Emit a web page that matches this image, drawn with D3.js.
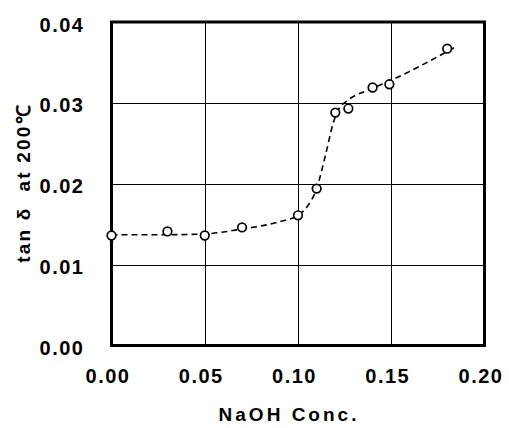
<!DOCTYPE html>
<html><head><meta charset="utf-8">
<script src="https://cdn.jsdelivr.net/npm/d3@7"></script>
<style>
html,body{margin:0;padding:0;background:#fff;}
text{font-family:"Liberation Sans",Arial,sans-serif;font-weight:bold;fill:#000;}
</style></head>
<body><svg id="chart" width="509" height="428"></svg>
<script>
// Measured points
const naohConc = [0.000, 0.030, 0.050, 0.070, 0.100, 0.110, 0.120, 0.127, 0.140, 0.149, 0.180];
const tanDelta = [0.0136, 0.0141, 0.0136, 0.0146, 0.0161, 0.0194, 0.0288, 0.0293, 0.0319, 0.0323, 0.0367];
// Dashed trend curve
const trendX = [0, 0.03, 0.05, 0.07, 0.09, 0.10, 0.105, 0.11, 0.115, 0.119, 0.122, 0.126, 0.14, 0.15, 0.185];
const trendY = [0.0137, 0.0137, 0.0138, 0.0144, 0.0153, 0.0161, 0.0172, 0.0194, 0.0238, 0.0276, 0.0293, 0.0302, 0.0318, 0.0328, 0.0370];
// Axes
const xTicks = [0, 0.05, 0.10, 0.15, 0.20];
const yTicks = [0, 0.01, 0.02, 0.03, 0.04];
const xTitle = "NaOH Conc.";
const yTitle = "tan \u03B4  at 200\u2103";

const svg = d3.select("#chart");
const L = 111.5, R = 484.5, T = 22, B = 345.5;
const x = d3.scaleLinear().domain([0, 0.2]).range([L, R]);
const y = d3.scaleLinear().domain([0, 0.04]).range([B, T]);

// grid
svg.append("g").selectAll("line").data(xTicks.slice(1, -1)).join("line")
  .attr("x1", d => Math.round(x(d)) + 0.5).attr("x2", d => Math.round(x(d)) + 0.5)
  .attr("y1", T).attr("y2", B).attr("stroke", "#000").attr("stroke-width", 1);
svg.append("g").selectAll("line").data(yTicks.slice(1, -1)).join("line")
  .attr("y1", d => Math.round(y(d)) + 0.5).attr("y2", d => Math.round(y(d)) + 0.5)
  .attr("x1", L).attr("x2", R).attr("stroke", "#000").attr("stroke-width", 1);

// frame
svg.append("rect").attr("x", L).attr("y", T).attr("width", R - L).attr("height", B - T)
  .attr("fill", "none").attr("stroke", "#000").attr("stroke-width", 3);

// axes labels via d3 axes
const xAxis = svg.append("g").attr("transform", `translate(0,${B})`)
  .call(d3.axisBottom(x).tickValues(xTicks).tickFormat(d3.format(".2f")).tickSize(0).tickPadding(27));
const yAxis = svg.append("g").attr("transform", `translate(${L},0)`)
  .call(d3.axisLeft(y).tickValues(yTicks).tickFormat(d3.format(".2f")).tickSize(0).tickPadding(27));
[xAxis, yAxis].forEach(g => {
  g.select(".domain").remove();
  g.selectAll("text").attr("font-size", 20).style("letter-spacing", "1.5px")
    .attr("font-family", "'Liberation Sans', Arial, sans-serif").attr("font-weight", "bold");
});
xAxis.selectAll("text").attr("dx", -4).attr("dy", "0.5em");
yAxis.selectAll("text").attr("dy", "0.45em");

// trend
const line = d3.line().x(d => x(d[0])).y(d => y(d[1])).curve(d3.curveMonotoneX);
svg.append("path").datum(trendX.map((v, i) => [v, trendY[i]]))
  .attr("d", line).attr("fill", "none").attr("stroke", "#000")
  .attr("stroke-width", 1.6).attr("stroke-dasharray", "6,4");

// points
svg.append("g").selectAll("circle").data(naohConc.map((v, i) => [v, tanDelta[i]])).join("circle")
  .attr("cx", d => x(d[0])).attr("cy", d => y(d[1])).attr("r", 4.3)
  .attr("fill", "#fff").attr("stroke", "#000").attr("stroke-width", 1.7);

// titles
svg.append("text").attr("x", 289).attr("y", 421).attr("text-anchor", "middle")
  .attr("font-size", 19).style("letter-spacing", "3px").text(xTitle);
svg.append("text").attr("transform", "translate(30,183) rotate(-90)").attr("text-anchor", "middle")
  .attr("font-size", 19).style("letter-spacing", "2.2px").style("white-space", "pre")
  .attr("xml:space", "preserve").text(yTitle);
</script></body></html>
